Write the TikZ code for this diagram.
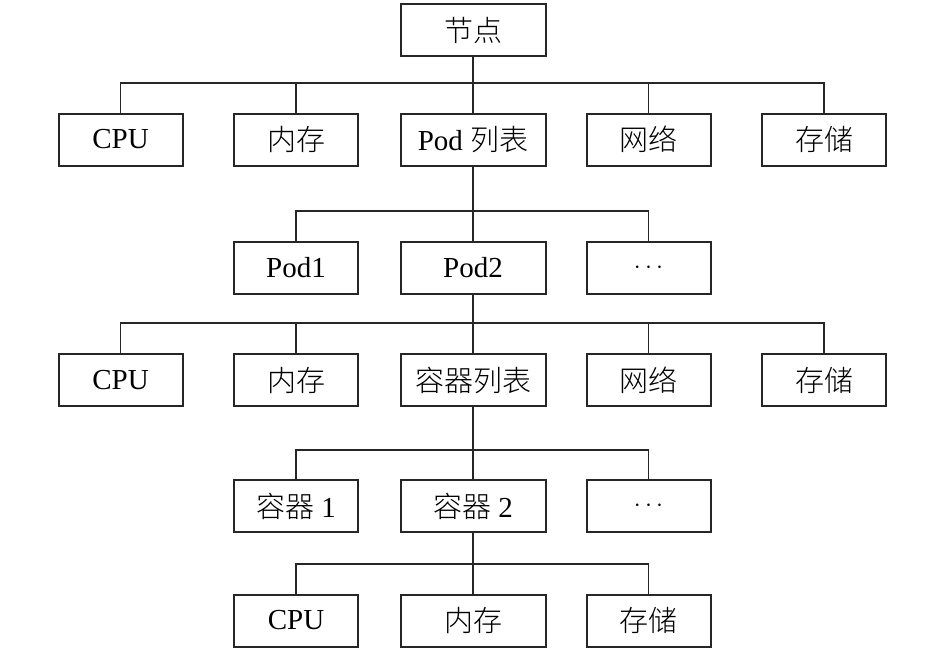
\documentclass[tikz,border=0pt]{standalone}
\usepackage{fontspec}
\setmainfont{Liberation Serif}
\newfontfamily\cjk{Noto Sans CJK SC Light}[Scale=1.0]
\begin{document}
\begin{tikzpicture}[x=1pt,y=-1pt,
  box/.style={draw=black!85,line width=2pt,rectangle,minimum height=52pt,inner sep=0pt,font=\fontsize{29}{32}\selectfont},
  sbox/.style={box,minimum width=124pt},
  wbox/.style={box,minimum width=145pt},
  link/.style={draw=black!85,line width=1.6pt}]
\useasboundingbox (0,0) rectangle (945,651);
% row 0
\node[wbox] (root) at (473,30) {{\cjk 节点}};
% row 1
\node[sbox] (r1a) at (120.5,139.5) {CPU};
\node[sbox] (r1b) at (296,139.5) {{\cjk 内存}};
\node[wbox] (r1c) at (473,139.5) {Pod {\cjk 列表}};
\node[sbox] (r1d) at (648.5,139.5) {{\cjk 网络}};
\node[sbox] (r1e) at (824,139.5) {{\cjk 存储}};
% row 2
\node[sbox] (r2a) at (296,267.5) {Pod1};
\node[wbox] (r2b) at (473,267.5) {Pod2};
\node[sbox] (r2c) at (648.5,267.5) {$\cdots$};
% row 3
\node[sbox] (r3a) at (120.5,380) {CPU};
\node[sbox] (r3b) at (296,380) {{\cjk 内存}};
\node[wbox] (r3c) at (473,380) {{\cjk 容器列表}};
\node[sbox] (r3d) at (648.5,380) {{\cjk 网络}};
\node[sbox] (r3e) at (824,380) {{\cjk 存储}};
% row 4
\node[sbox] (r4a) at (296,506) {{\cjk 容器} 1};
\node[wbox] (r4b) at (473,506) {{\cjk 容器} 2};
\node[sbox] (r4c) at (648.5,506) {$\cdots$};
% row 5
\node[sbox] (r5a) at (296,620.5) {CPU};
\node[wbox] (r5b) at (473,620.5) {{\cjk 内存}};
\node[sbox] (r5c) at (648.5,620.5) {{\cjk 存储}};
% buses
\coordinate (b1) at (473,83);
\coordinate (b2) at (473,211);
\coordinate (b3) at (473,323);
\coordinate (b4) at (473,450);
\coordinate (b5) at (473,564);
% tree 1
\draw[link] (root.south) -- (r1c.north);
\draw[link] (r1a.north) |- (r1e.north |- b1) -- (r1e.north);
\draw[link] (r1b.north) -- (r1b.north |- b1);
\draw[link] (r1d.north) -- (r1d.north |- b1);
% tree 2
\draw[link] (r1c.south) -- (r2b.north);
\draw[link] (r2a.north) |- (r2c.north |- b2) -- (r2c.north);
% tree 3
\draw[link] (r2b.south) -- (r3c.north);
\draw[link] (r3a.north) |- (r3e.north |- b3) -- (r3e.north);
\draw[link] (r3b.north) -- (r3b.north |- b3);
\draw[link] (r3d.north) -- (r3d.north |- b3);
% tree 4
\draw[link] (r3c.south) -- (r4b.north);
\draw[link] (r4a.north) |- (r4c.north |- b4) -- (r4c.north);
% tree 5
\draw[link] (r4b.south) -- (r5b.north);
\draw[link] (r5a.north) |- (r5c.north |- b5) -- (r5c.north);
\end{tikzpicture}
\end{document}
